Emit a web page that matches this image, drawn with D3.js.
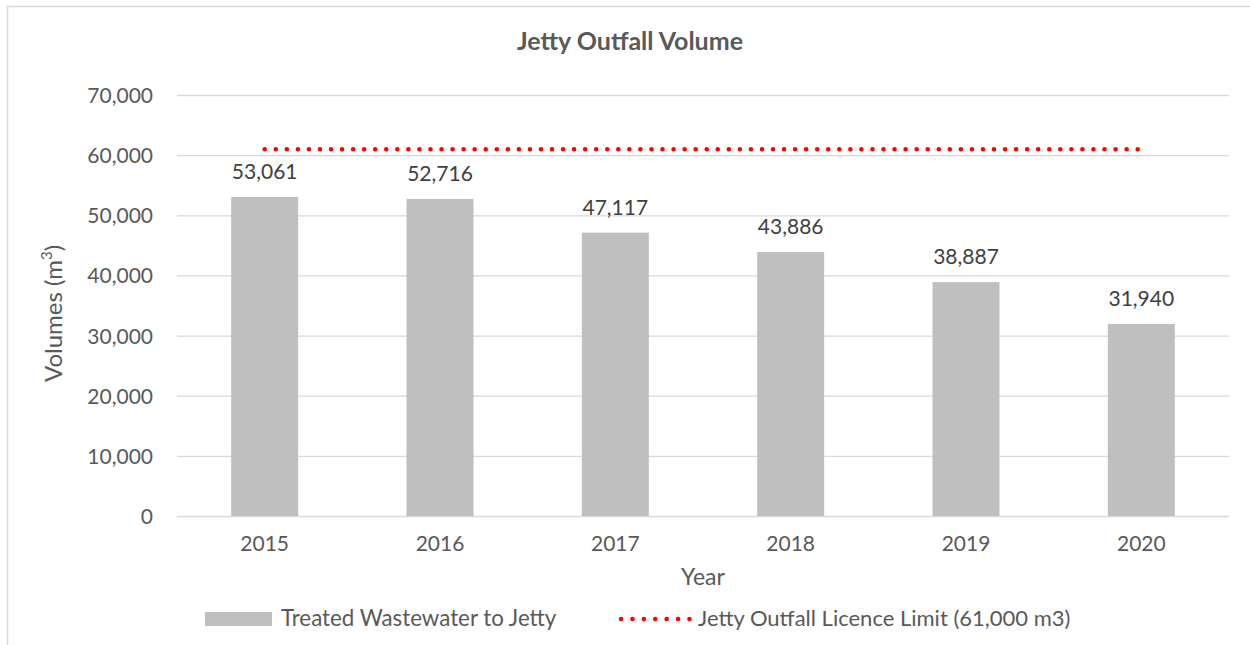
<!DOCTYPE html>
<html>
<head>
<meta charset="utf-8">
<script src="https://cdn.jsdelivr.net/npm/d3@7"></script>
<style>
  html, body { margin: 0; padding: 0; background: #ffffff; }
  svg { display: block; font-family: Lato, "Open Sans", sans-serif; }
</style>
</head>
<body>
<svg id="chart" width="1250" height="645"></svg>
<script>
// Annual treated wastewater discharged through the jetty outfall (m3)
const years = ["2015", "2016", "2017", "2018", "2019", "2020"];
const treatedVolumes = [53061, 52716, 47117, 43886, 38887, 31940];
const licenceLimit = [61000, 61000, 61000, 61000, 61000, 61000];
const yTicks = [0, 10000, 20000, 30000, 40000, 50000, 60000, 70000];

const textColor = "#595959";
const gridColor = "#d9d9d9";
const barColor = "#bfbfbf";
const limitColor = "#ff0000";

const svg = d3.select("#chart");
const plot = { left: 177, right: 1229, top: 95, bottom: 516 };

const x = d3.scaleBand()
  .domain(years)
  .range([plot.left, plot.right])
  .paddingInner(0.618)
  .paddingOuter(0.309);

const y = d3.scaleLinear()
  .domain([0, 70000])
  .range([plot.bottom, plot.top]);

const fmt = d3.format(",");

// outer chart frame (left and top edges)
svg.append("path")
  .attr("d", "M7.5,645 V6.5 H1250")
  .attr("fill", "none")
  .attr("stroke", gridColor)
  .attr("stroke-width", 1.5);

// title
svg.append("text")
  .attr("x", 630)
  .attr("y", 50)
  .attr("text-anchor", "middle")
  .attr("font-size", 25)
  .attr("font-weight", "bold")
  .attr("fill", textColor)
  .text("Jetty Outfall Volume");

// horizontal gridlines + y tick labels
const yAxis = d3.axisLeft(y)
  .tickValues(yTicks)
  .tickSize(-(plot.right - plot.left))
  .tickPadding(24)
  .tickFormat(fmt);

const yg = svg.append("g")
  .attr("transform", `translate(${plot.left},0)`)
  .call(yAxis);
yg.select(".domain").remove();
yg.selectAll(".tick line").attr("stroke", gridColor).attr("stroke-width", 1.3);
yg.selectAll(".tick text")
  .attr("fill", textColor)
  .attr("font-size", 21)
  .attr("font-family", "Lato, 'Open Sans', sans-serif")
  .attr("dy", "0.36em");

// bars
svg.append("g")
  .selectAll("rect")
  .data(years.map((yr, i) => ({ yr, v: treatedVolumes[i] })))
  .join("rect")
  .attr("x", d => x(d.yr))
  .attr("y", d => y(d.v))
  .attr("width", x.bandwidth())
  .attr("height", d => y(0) - y(d.v))
  .attr("fill", barColor);

// data labels
svg.append("g")
  .selectAll("text")
  .data(years.map((yr, i) => ({ yr, v: treatedVolumes[i] })))
  .join("text")
  .attr("x", d => x(d.yr) + x.bandwidth() / 2)
  .attr("y", d => y(d.v) - 18)
  .attr("text-anchor", "middle")
  .attr("font-size", 21)
  .attr("fill", "#404040")
  .text(d => fmt(d.v));

// licence limit as a dotted line through category centres
const limitLine = d3.line()
  .x((d, i) => x(years[i]) + x.bandwidth() / 2)
  .y(d => y(d));

svg.append("path")
  .datum(licenceLimit)
  .attr("d", limitLine)
  .attr("fill", "none")
  .attr("stroke", limitColor)
  .attr("stroke-width", 4.5)
  .attr("stroke-linecap", "round")
  .attr("stroke-dasharray", "0.1 10.95");

// x axis labels
const xAxis = d3.axisBottom(x).tickSize(0).tickPadding(20);
const xg = svg.append("g")
  .attr("transform", `translate(0,${plot.bottom})`)
  .call(xAxis);
xg.select(".domain").remove();
xg.selectAll(".tick text")
  .attr("fill", textColor)
  .attr("font-size", 21)
  .attr("font-family", "Lato, 'Open Sans', sans-serif")
  .attr("dy", "0.71em");

// axis titles
svg.append("text")
  .attr("x", (plot.left + plot.right) / 2)
  .attr("y", 585)
  .attr("text-anchor", "middle")
  .attr("font-size", 23)
  .attr("fill", textColor)
  .text("Year");

const yTitle = svg.append("text")
  .attr("transform", `translate(62,${(plot.top + plot.bottom) / 2 + 8}) rotate(-90)`)
  .attr("text-anchor", "middle")
  .attr("font-size", 24)
  .attr("fill", textColor);
yTitle.append("tspan").text("Volumes (m");
yTitle.append("tspan").attr("font-size", 15).attr("dy", -10).text("3");
yTitle.append("tspan").attr("dy", 10).text(")");

// legend
const legend = svg.append("g");
legend.append("rect")
  .attr("x", 205).attr("y", 612)
  .attr("width", 67).attr("height", 14)
  .attr("fill", barColor);
legend.append("text")
  .attr("x", 281).attr("y", 626)
  .attr("font-size", 22.3)
  .attr("fill", textColor)
  .text("Treated Wastewater to Jetty");

legend.append("line")
  .attr("x1", 621).attr("x2", 690)
  .attr("y1", 619).attr("y2", 619)
  .attr("stroke", limitColor)
  .attr("stroke-width", 4.5)
  .attr("stroke-linecap", "round")
  .attr("stroke-dasharray", "0.1 11.3");
legend.append("text")
  .attr("x", 698).attr("y", 626)
  .attr("font-size", 22)
  .attr("fill", textColor)
  .text("Jetty Outfall Licence Limit (61,000 m3)");
</script>
</body>
</html>
